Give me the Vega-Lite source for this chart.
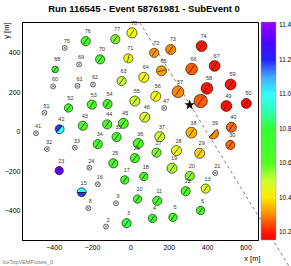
{
  "$schema": "https://vega.github.io/schema/vega-lite/v6.json",
  "width": 236,
  "height": 218,
  "autosize": "none",
  "padding": {"left": 22, "top": 22, "right": 33, "bottom": 26},
  "background": "white",
  "title": {
    "text": "Run 116545 - Event 58761981 - SubEvent 0",
    "anchor": "middle",
    "frame": "group",
    "offset": 7,
    "dx": 4,
    "fontSize": 9.5,
    "fontWeight": "bold",
    "font": "Liberation Sans Narrow, Liberation Sans",
    "color": "black"
  },
  "config": {
    "view": {"stroke": "black", "strokeWidth": 1},
    "font": "Liberation Sans",
    "axis": {"grid": false, "domainColor": "black", "tickColor": "black", "labelColor": "black", "titleColor": "black", "titleFontWeight": "normal"}
  },
  "datasets": {
    "st": [
      {"n": "78", "x": 8, "y": 500, "q": 36, "v": 10.43, "a": 35},
      {"n": "77", "x": -79, "y": 468, "q": 30, "v": 10.55, "a": 35},
      {"n": "76", "x": -233, "y": 458, "q": 30, "v": 10.65, "a": 35},
      {"n": "70", "x": -158, "y": 366, "q": 30, "v": 10.68, "a": 35},
      {"n": "71", "x": -11, "y": 371, "q": 30, "v": 10.44, "a": 15},
      {"n": "68", "x": -392, "y": 315, "q": 16, "v": 10.7, "a": 35},
      {"n": "63", "x": -46, "y": 256, "q": 30, "v": 10.5, "a": 35},
      {"n": "64", "x": 70, "y": 275, "q": 36, "v": 10.43, "a": 35},
      {"n": "72", "x": 124, "y": 399, "q": 30, "v": 10.32, "a": 35},
      {"n": "73", "x": 210, "y": 416, "q": 36, "v": 10.3, "a": 35},
      {"n": "74", "x": 371, "y": 433, "q": 42, "v": 10.2, "a": 35},
      {"n": "65", "x": 162, "y": 308, "q": 36, "v": 10.33, "a": 75},
      {"n": "66", "x": 319, "y": 317, "q": 49, "v": 10.26, "a": 35},
      {"n": "67", "x": 439, "y": 333, "q": 42, "v": 10.2, "a": 35},
      {"n": "57", "x": 248, "y": 202, "q": 49, "v": 10.3, "a": 35},
      {"n": "58", "x": 399, "y": 219, "q": 49, "v": 10.2, "a": 35},
      {"n": "59", "x": 522, "y": 239, "q": 42, "v": 10.19, "a": 35},
      {"n": "55", "x": 23, "y": 155, "q": 36, "v": 10.5, "a": 35},
      {"n": "56", "x": 132, "y": 179, "q": 36, "v": 10.43, "a": 35},
      {"n": "", "x": 366, "y": 155, "q": 64, "v": 10.26, "a": 35},
      {"n": "49", "x": 500, "y": 130, "q": 42, "v": 10.18, "a": 35},
      {"n": "50", "x": 604, "y": 143, "q": 36, "v": 10.17, "a": 35},
      {"n": "46", "x": 75, "y": 73, "q": 36, "v": 10.48, "a": 35},
      {"n": "45", "x": -37, "y": 42, "q": 36, "v": 10.6, "a": 35},
      {"n": "44", "x": -121, "y": 37, "q": 30, "v": 10.65, "a": 35},
      {"n": "43", "x": -248, "y": 30, "q": 30, "v": 10.65, "a": 35},
      {"n": "42", "x": -370, "y": 14, "q": 25, "v": 11.18, "a": 35},
      {"n": "52", "x": -323, "y": 120, "q": 25, "v": 10.67, "a": 35},
      {"n": "53", "x": -201, "y": 137, "q": 30, "v": 10.66, "a": 35},
      {"n": "54", "x": -119, "y": 140, "q": 30, "v": 10.64, "a": 35},
      {"n": "34", "x": -170, "y": -63, "q": 30, "v": 10.68, "a": 35},
      {"n": "35", "x": -72, "y": -27, "q": 30, "v": 10.65, "a": 35},
      {"n": "36", "x": 41, "y": -60, "q": 36, "v": 10.62, "a": 35},
      {"n": "37", "x": 153, "y": -25, "q": 36, "v": 10.5, "a": 35},
      {"n": "38", "x": 318, "y": -5, "q": 42, "v": 10.35, "a": 35},
      {"n": "39", "x": 430, "y": -8, "q": 36, "v": 10.3, "a": 35, "k": "h"},
      {"n": "40", "x": 526, "y": 22, "q": 36, "v": 10.27, "a": 35},
      {"n": "23", "x": -371, "y": -197, "q": 25, "v": 11.35, "a": 35},
      {"n": "25", "x": -89, "y": -160, "q": 30, "v": 10.68, "a": 35},
      {"n": "26", "x": 23, "y": -134, "q": 30, "v": 10.62, "a": 35},
      {"n": "27", "x": 136, "y": -106, "q": 30, "v": 10.55, "a": 35},
      {"n": "28", "x": 240, "y": -96, "q": 36, "v": 10.45, "a": 35},
      {"n": "29", "x": 361, "y": -109, "q": 36, "v": 10.38, "a": 35},
      {"n": "30", "x": 521, "y": -67, "q": 30, "v": 10.27, "a": 35},
      {"n": "15", "x": -254, "y": -308, "q": 25, "v": 11.18, "a": 90},
      {"n": "17", "x": -29, "y": -244, "q": 25, "v": 10.68, "a": 35},
      {"n": "18", "x": 70, "y": -227, "q": 25, "v": 10.65, "a": 35},
      {"n": "19", "x": 217, "y": -185, "q": 36, "v": 10.52, "a": 35},
      {"n": "20", "x": 309, "y": -224, "q": 30, "v": 10.55, "a": 35},
      {"n": "10", "x": 37, "y": -341, "q": 25, "v": 10.68, "a": 35},
      {"n": "11", "x": 140, "y": -350, "q": 30, "v": 10.68, "a": 35},
      {"n": "12", "x": 288, "y": -301, "q": 30, "v": 10.62, "a": 35},
      {"n": "13", "x": 392, "y": -288, "q": 30, "v": 10.47, "a": 35},
      {"n": "3", "x": -20, "y": -463, "q": 30, "v": 10.82, "a": 35},
      {"n": "4", "x": 115, "y": -439, "q": 25, "v": 10.75, "a": 35},
      {"n": "5", "x": 222, "y": -433, "q": 25, "v": 10.7, "a": 35},
      {"n": "6", "x": 366, "y": -399, "q": 25, "v": 10.68, "a": 35}
    ],
    "half": [
      {"n": "42", "x": -370, "y": 14, "q": 25, "v": 11.0, "t0": 0.785, "t1": 3.927},
      {"n": "15", "x": -254, "y": -308, "q": 25, "v": 11.0, "t0": -1.571, "t1": 1.571},
      {"n": "39", "x": 430, "y": -8, "q": 36, "v": 10.3, "t0": 0.785, "t1": 3.927}
    ],
    "empty": [
      {"n": "75", "x": -342, "y": 424},
      {"n": "69", "x": -268, "y": 340},
      {"n": "61", "x": -276, "y": 232},
      {"n": "62", "x": -195, "y": 239},
      {"n": "60", "x": -403, "y": 229},
      {"n": "51", "x": -448, "y": 96},
      {"n": "47", "x": 176, "y": 120},
      {"n": "41", "x": -492, "y": -8},
      {"n": "32", "x": -435, "y": -88},
      {"n": "33", "x": -290, "y": -81},
      {"n": "24", "x": -214, "y": -182},
      {"n": "16", "x": -170, "y": -266},
      {"n": "21", "x": 442, "y": -209},
      {"n": "8", "x": -219, "y": -387},
      {"n": "9", "x": -75, "y": -362},
      {"n": "2", "x": -127, "y": -480}
    ],
    "axisline": [
      {"x": 49, "y": 552},
      {"x": 854, "y": -724}
    ],
    "core": [
      {"x": 309, "y": 135}
    ],
    "note": [
      {"t": "IceTopVEMPulses_0", "x": -668, "y": -658}
    ]
  },
  "layer": [
    {
      "data": {"name": "axisline"},
      "mark": {"type": "line", "strokeDash": [3, 3], "stroke": "#444444", "strokeWidth": 0.7, "clip": false},
      "encoding": {
        "x": {"field": "x", "type": "quantitative", "scale": {"domain": [-565, 665], "nice": false, "zero": false},
          "axis": {"orient": "bottom", "values": [-400, -200, 0, 200, 400, 600],
            "tickSize": 0, "tickWidth": 0.8, "labelPadding": 3, "labelFontSize": 7, "labelFlush": false,
            "encode": {"ticks": {"update": {"y2": {"value": -5}}}},
            "title": "x [m]", "titleX": 238, "titleY": 18, "titleAlign": "right", "titleBaseline": "middle", "titleFontSize": 7.5}},
        "y": {"field": "y", "type": "quantitative", "scale": {"domain": [-548, 555], "nice": false, "zero": false},
          "axis": {"orient": "left", "values": [-400, -200, 0, 200, 400],
            "tickSize": 0, "tickWidth": 0.8, "labelPadding": 2, "labelFontSize": 7, "labelFlush": false,
            "encode": {"ticks": {"update": {"x2": {"value": 5}}}},
            "title": "y [m]", "titleAngle": -90, "titleX": -16, "titleY": 0, "titleAlign": "right", "titleBaseline": "middle", "titleFontSize": 7.5}}
      }
    },
    {
      "data": {"name": "st"},
      "transform": [{"filter": "datum.k !== 'h'"}],
      "mark": {"type": "point", "shape": "circle", "filled": true, "opacity": 1, "stroke": "black", "strokeWidth": 0.6},
      "encoding": {
        "x": {"field": "x", "type": "quantitative"},
        "y": {"field": "y", "type": "quantitative"},
        "size": {"field": "q", "type": "quantitative", "scale": {"domain": [0, 100], "range": [0, 280]}, "legend": null},
        "color": {"field": "v", "type": "quantitative",
          "scale": {"domain": [10.155, 10.22, 10.28, 10.34, 10.42, 10.5, 10.58, 10.8, 10.92, 11.0, 11.1, 11.2, 11.32, 11.42],
            "range": ["#ff0000", "#ff2200", "#ff7700", "#ffaa00", "#ffff00", "#ccff33", "#55ff22", "#33ff33", "#33ffcc", "#33ffff", "#44aaff", "#2222ff", "#5500ff", "#9900ff"],
            "interpolate": "rgb"},
          "legend": {"orient": "right", "offset": 3, "direction": "vertical", "gradientLength": 218, "gradientThickness": 15,
            "title": null, "values": [10.2, 10.4, 10.6, 10.8, 11, 11.2, 11.4], "labelFontSize": 6.5, "labelColor": "black",
            "labelOffset": 3, "padding": 0, "gradientStrokeColor": "#999999", "gradientStrokeWidth": 0.5}}
      }
    },
    {
      "data": {"name": "half"},
      "mark": {"type": "arc", "stroke": "black", "strokeWidth": 0.6},
      "encoding": {
        "x": {"field": "x", "type": "quantitative"},
        "y": {"field": "y", "type": "quantitative"},
        "radius": {"field": "q", "type": "quantitative", "scale": {"type": "sqrt", "domain": [0, 100], "range": [0, 9.44], "zero": true}},
        "theta": {"field": "t0", "type": "quantitative", "scale": null, "stack": null},
        "theta2": {"field": "t1"},
        "color": {"field": "v", "type": "quantitative"}
      }
    },
    {
      "data": {"name": "st"},
      "mark": {"type": "point", "shape": "M0,-0.8L0,0.8", "filled": false, "stroke": "black", "strokeWidth": 0.6, "opacity": 1},
      "encoding": {
        "x": {"field": "x", "type": "quantitative"},
        "y": {"field": "y", "type": "quantitative"},
        "size": {"field": "q", "type": "quantitative"},
        "angle": {"field": "a", "type": "quantitative", "scale": null}
      }
    },
    {
      "data": {"name": "empty"},
      "mark": {"type": "point", "shape": "circle", "filled": true, "fill": "white", "stroke": "black", "strokeWidth": 0.6, "size": 24, "opacity": 1},
      "encoding": {
        "x": {"field": "x", "type": "quantitative"},
        "y": {"field": "y", "type": "quantitative"}
      }
    },
    {
      "data": {"name": "empty"},
      "mark": {"type": "point", "shape": "M-0.5,-0.5L0.5,0.5M-0.5,0.5L0.5,-0.5", "filled": false, "stroke": "black", "strokeWidth": 0.5, "size": 24, "opacity": 1},
      "encoding": {
        "x": {"field": "x", "type": "quantitative"},
        "y": {"field": "y", "type": "quantitative"}
      }
    },
    {
      "data": {"name": "core"},
      "mark": {"type": "point", "shape": "M0,-1L0.225,-0.309L0.951,-0.309L0.363,0.118L0.588,0.809L0,0.382L-0.588,0.809L-0.363,0.118L-0.951,-0.309L-0.225,-0.309Z", "filled": true, "fill": "black", "size": 120, "opacity": 1},
      "encoding": {
        "x": {"field": "x", "type": "quantitative"},
        "y": {"field": "y", "type": "quantitative"}
      }
    },
    {
      "data": {"name": "st"},
      "mark": {"type": "text", "dx": 2, "dy": -10, "fontSize": 5.5, "color": "#333333"},
      "encoding": {
        "x": {"field": "x", "type": "quantitative"},
        "y": {"field": "y", "type": "quantitative"},
        "text": {"field": "n", "type": "nominal"}
      }
    },
    {
      "data": {"name": "empty"},
      "mark": {"type": "text", "dx": 2, "dy": -7, "fontSize": 5.5, "color": "#333333"},
      "encoding": {
        "x": {"field": "x", "type": "quantitative"},
        "y": {"field": "y", "type": "quantitative"},
        "text": {"field": "n", "type": "nominal"}
      }
    },
    {
      "data": {"name": "note"},
      "mark": {"type": "text", "align": "left", "baseline": "middle", "fontSize": 5.5, "color": "#777777"},
      "encoding": {
        "x": {"field": "x", "type": "quantitative"},
        "y": {"field": "y", "type": "quantitative"},
        "text": {"field": "t", "type": "nominal"}
      }
    }
  ]
}
